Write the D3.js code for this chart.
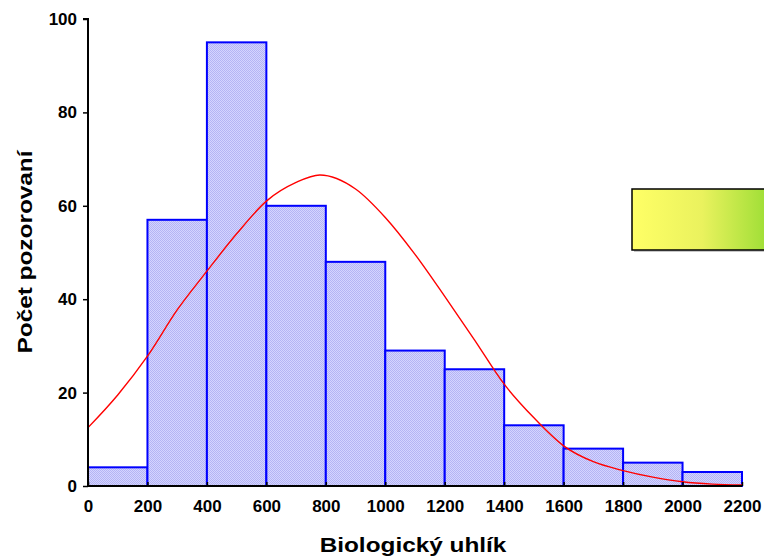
<!DOCTYPE html>
<html><head><meta charset="utf-8">
<script src="https://cdn.jsdelivr.net/npm/d3@7/dist/d3.min.js"></script>
<style>body{margin:0;background:#fff}svg{display:block}</style>
</head><body><svg id="c" width="764" height="559"></svg>
<script>
const binStarts = [0,200,400,600,800,1000,1200,1400,1600,1800,2000];
const binWidth = 200;
const counts = [4,57,95,60,48,29,25,13,8,5,3];
const curveX = [0,100,200,300,400,500,600,700,780,900,1000,1100,1200,1300,1400,1500,1600,1700,1800,1900,2000,2100,2200];
const curveY = [12.5,19.5,27.8,37.7,46,54,61,65,66.6,63.6,57.5,49.6,40.6,31.3,21.8,14.6,8.6,5.2,3.3,1.9,0.9,0.4,0.2];
const xTicks = [0,200,400,600,800,1000,1200,1400,1600,1800,2000,2200];
const yTicks = [0,20,40,60,80,100];
const xTitle = "Biologický uhlík";
const yTitle = "Počet pozorovaní";

const svg = d3.select("#c");
const x = d3.scaleLinear().domain([0,2200]).range([88,742]);
const y = d3.scaleLinear().domain([0,100]).range([486,19]);

const defs = svg.append("defs");
const pat = defs.append("pattern").attr("id","chk").attr("width",2).attr("height",2).attr("patternUnits","userSpaceOnUse");
pat.append("rect").attr("width",2).attr("height",2).attr("fill","#d4d4ff");
pat.append("rect").attr("width",1).attr("height",1).attr("fill","#b4b4f4");
pat.append("rect").attr("x",1).attr("y",1).attr("width",1).attr("height",1).attr("fill","#b4b4f4");
const grad = defs.append("linearGradient").attr("id","yg").attr("x1","0").attr("x2","1");
grad.append("stop").attr("offset","0").attr("stop-color","#ffff66");
grad.append("stop").attr("offset","0.5").attr("stop-color","#eaf25e");
grad.append("stop").attr("offset","1").attr("stop-color","#99dd33");

// bars
svg.append("g").selectAll("rect").data(binStarts).join("rect")
  .attr("x",(d)=>x(d))
  .attr("y",(d,i)=>y(counts[i]))
  .attr("width",(d)=>x(d+binWidth)-x(d))
  .attr("height",(d,i)=>y(0)-y(counts[i]))
  .attr("fill","url(#chk)")
  .attr("stroke","#0000ff").attr("stroke-width",2);

// curve
svg.append("path").datum(curveX.map((v,i)=>[v,curveY[i]]))
  .attr("fill","none").attr("stroke","#ff0000").attr("stroke-width",1.4)
  .attr("d",d3.line().x(d=>x(d[0])).y(d=>y(d[1])).curve(d3.curveMonotoneX));

// axes
const fontF = "'Liberation Sans', Arial, sans-serif";
const xa = svg.append("g").attr("transform","translate(0,486)")
  .call(d3.axisBottom(x).tickValues(xTicks).tickSize(-4).tickPadding(14).tickFormat(d3.format("d")));
const ya = svg.append("g").attr("transform","translate(88,0)")
  .call(d3.axisLeft(y).tickValues(yTicks).tickSize(5).tickPadding(6).tickFormat(d3.format("d")));
[xa,ya].forEach(a=>{
  a.select(".domain").attr("stroke","#000").attr("stroke-width",2);
  a.selectAll(".tick line").attr("stroke","#000").attr("stroke-width",1.5);
  a.selectAll("text").attr("font-family",fontF).attr("font-weight","bold").attr("font-size",17).attr("fill","#000");
});
xa.select(".domain").attr("d","M88,0H742");
ya.select(".domain").attr("d","M-5,19H0V486");

// legend-like box
svg.append("rect").attr("x",634).attr("y",191).attr("width",140).attr("height",61).attr("fill","#c8c8c8");
svg.append("rect").attr("x",632).attr("y",189).attr("width",140).attr("height",61)
  .attr("fill","url(#yg)").attr("stroke","#000").attr("stroke-width",1.5);

// titles
svg.append("text").attr("transform","translate(413,552) scale(1.16,1)").attr("text-anchor","middle")
  .attr("font-family",fontF).attr("font-weight","bold").attr("font-size",21).text(xTitle);
svg.append("text").attr("transform","translate(32,252) rotate(-90) scale(1.16,1)").attr("text-anchor","middle")
  .attr("font-family",fontF).attr("font-weight","bold").attr("font-size",21).text(yTitle);
</script></body></html>
